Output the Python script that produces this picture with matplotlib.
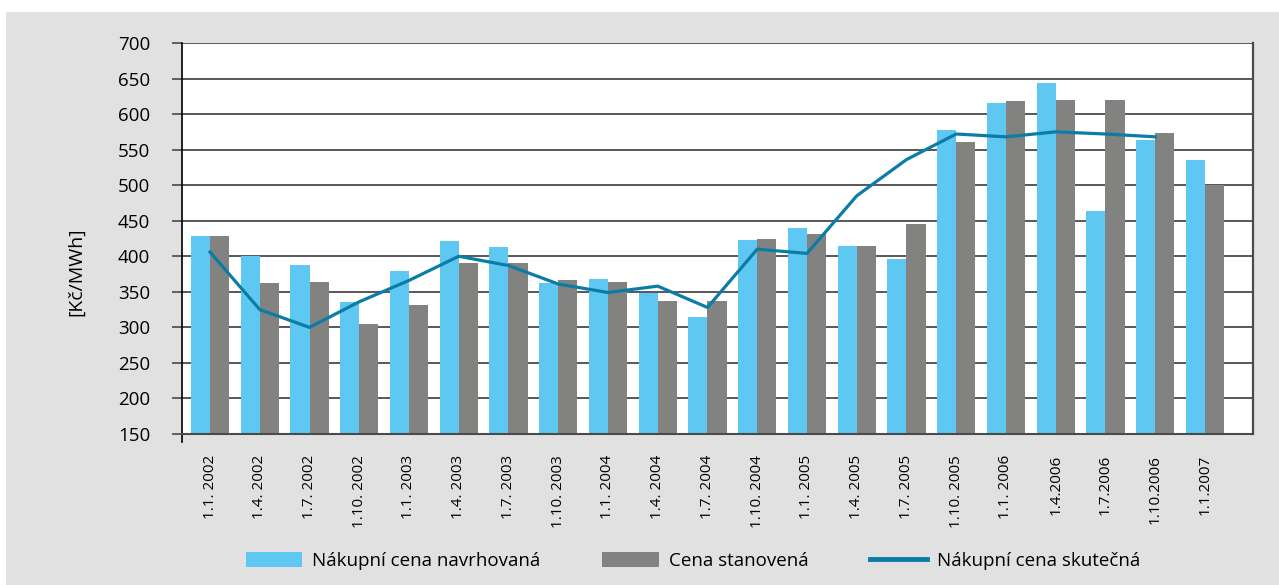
import numpy as np
import matplotlib.pyplot as plt
from matplotlib.patches import Rectangle
from matplotlib.lines import Line2D

plt.rcParams['font.family'] = ['Open Sans', 'DejaVu Sans']

# data
labels = ['1.1. 2002', '1.4. 2002', '1.7. 2002', '1.10. 2002', '1.1. 2003',
          '1.4. 2003', '1.7. 2003', '1.10. 2003', '1.1. 2004', '1.4. 2004',
          '1.7. 2004', '1.10. 2004', '1.1. 2005', '1.4. 2005', '1.7. 2005',
          '1.10. 2005', '1.1. 2006', '1.4.2006', '1.7.2006', '1.10.2006',
          '1.1.2007']
navrhovana = [429, 401, 388, 336, 379, 421, 413, 362, 368, 348, 315,
              423, 440, 414, 396, 578, 616, 644, 464, 564, 535]
stanovena = [429, 362, 364, 305, 331, 390, 390, 367, 364, 337, 337,
             424, 431, 414, 445, 561, 618, 620, 620, 574, 500]
skutecna = [406, 325, 300, 336, 366, 400, 387, 361, 349, 358, 328,
            410, 404, 485, 536, 572, 568, 575, 572, 568]

c_light = '#5ec8f2'
c_gray = '#828280'
c_line = '#0b7ca6'
c_grid = '#4a4a4a'

fig = plt.figure(figsize=(12.79, 5.85), dpi=100)
fig.patches.append(Rectangle((6 / 1279, 0), 1, 1 - 12 / 585, transform=fig.transFigure,
                             facecolor='#e1e1e1', edgecolor='none', zorder=-10))
ax = fig.add_axes([182 / 1279, 1 - 434 / 585, (1253 - 182) / 1279, (434 - 43) / 585])

x = np.arange(len(labels))
w = 0.385
b1 = ax.bar(x - w / 2, navrhovana, w, color=c_light, zorder=2)
b2 = ax.bar(x + w / 2, stanovena, w, color=c_gray, zorder=2)
l1, = ax.plot(x[:len(skutecna)], skutecna, color=c_line, lw=2.3, zorder=3)

ax.set_ylim(150, 700)
ax.set_yticks(np.arange(150, 701, 50))
ax.set_xlim(-0.563, 20.966)
ax.set_xticks(x)
ax.set_xticklabels(labels, rotation=90, fontsize=11, va='top')
ax.tick_params(axis='x', length=0, pad=15)
ax.tick_params(axis='y', length=7, width=1.2, color=c_grid, labelsize=13.5, pad=16)
ax.yaxis.grid(True, color=c_grid, lw=1.3, zorder=1)
ax.set_axisbelow(True)

ax.spines['top'].set_visible(False)
ax.spines['left'].set_color('black')
ax.spines['left'].set_linewidth(1.2)
ax.spines['right'].set_color(c_grid)
ax.spines['right'].set_linewidth(1.6)
ax.spines['bottom'].set_color(c_grid)
ax.spines['bottom'].set_linewidth(1.5)
ax.add_line(Line2D([0, 0], [0, -0.02], transform=ax.transAxes, color='black', lw=1.2, clip_on=False))

ax.set_ylabel('[Kč/MWh]', fontsize=14)
ax.yaxis.set_label_coords(-0.0906, 0.414)

leg_line = Line2D([], [], color=c_line, lw=3.5)
fig.legend([b1, b2, leg_line], ['Nákupní cena navrhovaná', 'Cena stanovená', 'Nákupní cena skutečná'],
           loc='center', bbox_to_anchor=(693 / 1279, 1 - 561 / 585), ncol=3, frameon=False,
           fontsize=13.5, handlelength=3.0, handleheight=0.8, handletextpad=0.55,
           columnspacing=3.3)

fig.savefig('out.png', dpi=100)
